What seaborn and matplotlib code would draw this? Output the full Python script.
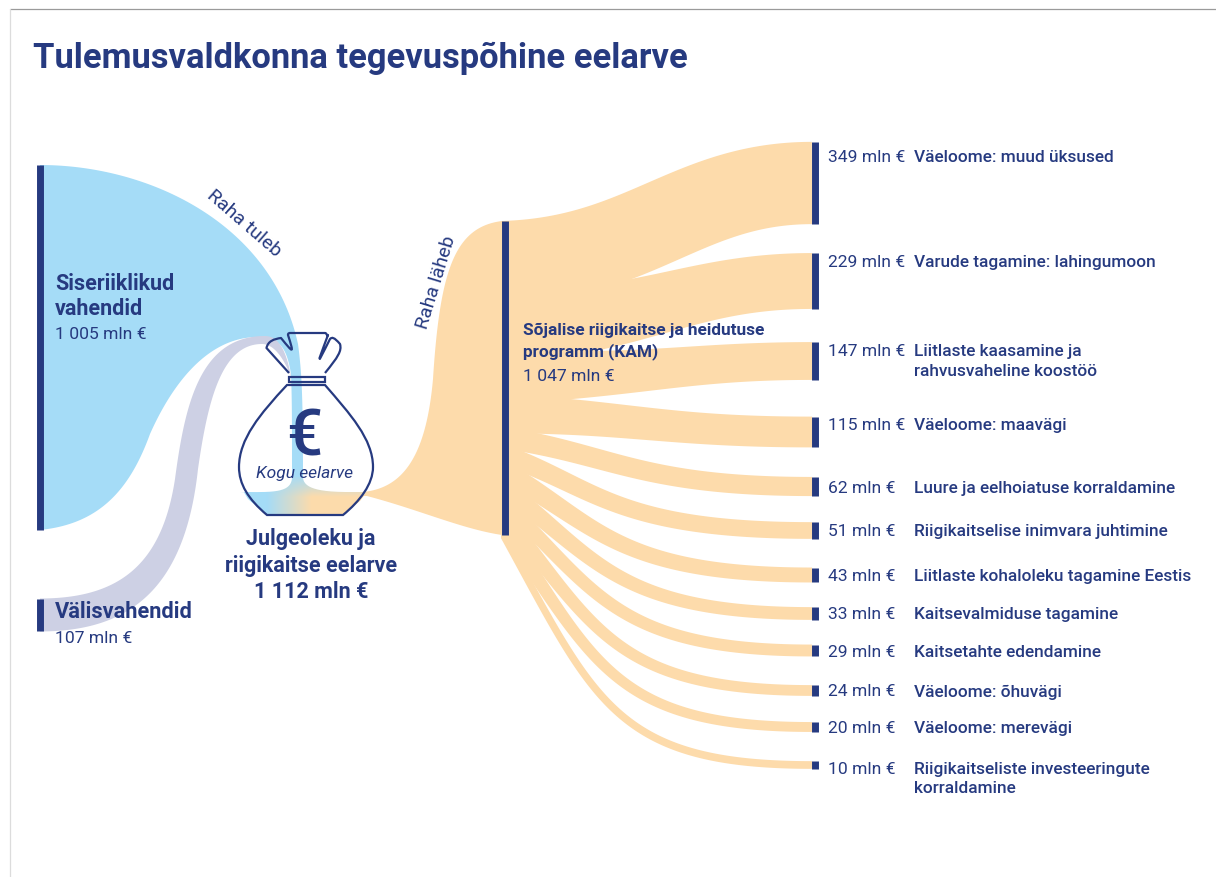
import numpy as np
import pandas as pd
import matplotlib
matplotlib.use("Agg")
import matplotlib.pyplot as plt
from matplotlib.colors import to_rgb
from matplotlib.patches import PathPatch, Rectangle
from matplotlib.path import Path
import seaborn as sns

# Data
source_names = ["Siseriiklikud\nvahendid", "Välisvahendid"]
source_values = [1005, 107]
total_value = 1112
program_name = "Sõjalise riigikaitse ja heidutuse\nprogramm (KAM)"
program_value = 1047
target_names = ["Väeloome: muud üksused", "Varude tagamine: lahingumoon",
                "Liitlaste kaasamine ja\nrahvusvaheline koostöö", "Väeloome: maavägi",
                "Luure ja eelhoiatuse korraldamine", "Riigikaitselise inimvara juhtimine",
                "Liitlaste kohaloleku tagamine Eestis", "Kaitsevalmiduse tagamine",
                "Kaitsetahte edendamine", "Väeloome: õhuvägi", "Väeloome: merevägi",
                "Riigikaitseliste investeeringute\nkorraldamine"]
target_values = [349, 229, 147, 115, 62, 51, 43, 33, 29, 24, 20, 10]

# Layout (image pixels)
target_centres = [184, 282, 362, 433, 487.5, 531.5, 576, 614.5, 651.5, 691.5, 728, 766]
label_centres = [157, 263, 361.5, 426, 489, 532, 577, 615, 653, 692, 729, 779]
slot_heights = [74, 60, 43, 31, 17, 16, 17, 15, 12, 12, 11, 6]

NAVY = "#263A80"
BLUE = "#A5DCF7"
LILAC = "#CDD0E4"
PEACH = "#FDDBAB"


def bez(p0, p1, p2, p3, n=80):
    t = np.linspace(0, 1, n)[:, None]
    p0, p1, p2, p3 = map(np.array, (p0, p1, p2, p3))
    return (1 - t) ** 3 * p0 + 3 * (1 - t) ** 2 * t * p1 + 3 * (1 - t) * t ** 2 * p2 + t ** 3 * p3


def sink_height(v):
    return 5.5 + 0.22 * v


def ribbon(y0, y1, w0, w1, over_top, over_bot):
    # centre line with a nearly constant width, like a thick stroke
    x0, x1 = 501, 812
    dx = x1 - x0
    d = np.clip((y1 - y0) / 230, 0, 1)
    k = min(1, 3 * d)
    a, c, b = 0.45 - 0.15 * k, 0.60 - 0.24 * k, 0.72 * d ** 0.5
    line = bez((x0, y0), (x0 + a * dx, y0 + b * (y1 - y0)), (x0 + c * dx, y1), (x1, y1), n=160)
    tang = np.gradient(line, axis=0)
    norm = np.column_stack([-tang[:, 1], tang[:, 0]]) / np.linalg.norm(tang, axis=1)[:, None]
    s = np.linspace(0, 1, len(line))[:, None]
    fade = (1 - s) ** 2.5
    up = w1 / 2 + (w0 / 2 + over_top - w1 / 2) * fade
    down = w1 / 2 + (w0 / 2 + over_bot - w1 / 2) * fade
    return np.vstack([line - norm * up, (line + norm * down)[::-1]])


sns.set_theme(style="white")
plt.rcParams["font.family"] = ["Roboto", "DejaVu Sans"]

fig = plt.figure(figsize=(12.16, 8.78), dpi=100)
ax = fig.add_axes([0, 0, 1, 1])

# page frame
ax.plot([10, 1216], [10, 10], color="#9a9a9a", lw=0.9)
ax.plot([10, 10], [10, 878], color="#dcdcdc", lw=0.9)

# left flows
blue_top = 166
blue_bot = blue_top + 0.3697 * source_values[0] - 6.6
blue = np.vstack([
    bez((40, blue_top), (150, blue_top), (272, 225), (298, 345)),
    bez((298, 345), (302, 375), (303, 400), (303, 485)),
    [(292, 485)],
    bez((292, 485), (292, 420), (292, 400), (291, 375)),
    bez((291, 375), (287, 350), (280, 338), (258, 338)),
    bez((258, 338), (205, 338), (170, 390), (150, 435)),
    bez((150, 435), (130, 490), (100, 525), (40, blue_bot)),
])
ax.fill(blue[:, 0], blue[:, 1], color=BLUE, lw=0)

lilac_top = 599.5
lilac_bot = lilac_top + 0.3697 * source_values[1] - 6.6
lilac = np.vstack([
    bez((40, lilac_top), (120, lilac_top), (162, 565), (175, 480)),
    bez((175, 480), (185, 405), (200, 337), (265, 337)),
    bez((265, 337), (280, 337), (287, 355), (291, 378)),
    bez((291, 378), (285, 362), (275, 345), (262, 345)),
    bez((262, 345), (222, 345), (208, 400), (198, 470)),
    bez((198, 470), (185, 590), (130, lilac_bot), (40, lilac_bot)),
])
ax.fill(lilac[:, 0], lilac[:, 1], color=LILAC, lw=0)

# flow out of the bag to the programme
prog_top, prog_bot = 222, 536
peach = np.vstack([
    bez((345, 493), (395, 497), (425, 470), (433, 380)),
    bez((433, 380), (440, 270), (455, 228), (502, prog_top)),
    [(502, prog_bot)],
    bez((502, prog_bot), (462, 530), (420, 511), (367, 497)),
    [(345, 497)],
])
ax.fill(peach[:, 0], peach[:, 1], color=PEACH, lw=0)

# flows to the programme's targets
clip = Rectangle((501, 0), 400, 878, transform=ax.transData)
slot = prog_top
last = len(target_values) - 1
for i, (value, centre, height) in enumerate(zip(target_values, target_centres, slot_heights)):
    over_top = 0 if i == 0 else 0.14 * height
    over_bot = 0 if i == last else 0.14 * height
    shape = ribbon(slot + height / 2, centre, height, sink_height(value), over_top, over_bot)
    poly = ax.fill(shape[:, 0], shape[:, 1], color=PEACH, lw=0)[0]
    poly.set_clip_path(clip)
    slot += height

# node bars
rows = [("a", 39.5, blue_top), ("a", 39.5, blue_bot),
        ("b", 39.5, lilac_top), ("b", 39.5, lilac_bot),
        ("c", 504.5, prog_top), ("c", 504.5, prog_bot)]
for i, (value, centre) in enumerate(zip(target_values, target_centres)):
    h = sink_height(value)
    rows += [(f"t{i}", 814.5, centre - h / 2), (f"t{i}", 814.5, centre + h / 2)]
nodes = pd.DataFrame(rows, columns=["node", "x", "y"])
sns.lineplot(data=nodes, x="x", y="y", units="node", estimator=None, sort=False,
             color=NAVY, linewidth=5.0, solid_capstyle="butt", ax=ax, legend=False)

# bag body and gradient
body = Path(
    [(287, 386), (260, 415), (239, 440), (239, 468), (239, 485), (248, 500), (267, 516),
     (343, 516), (360, 502), (373, 485), (373, 468), (373, 440), (350, 415), (325, 386), (287, 386)],
    [Path.MOVETO, Path.CURVE4, Path.CURVE4, Path.CURVE4, Path.CURVE4, Path.CURVE4, Path.CURVE4,
     Path.LINETO, Path.CURVE4, Path.CURVE4, Path.CURVE4, Path.CURVE4, Path.CURVE4, Path.CURVE4, Path.CLOSEPOLY])
ax.add_patch(PathPatch(body, facecolor="none", edgecolor=NAVY, lw=1.6, zorder=6))

outline = body.interpolated(40).vertices
lower = outline[outline[:, 1] >= 493]
pool = np.vstack([
    lower,
    bez((372, 493), (340, 493), (303, 495), (303, 478)),
    bez((292, 478), (292, 495), (270, 493), (240, 493)),
])
gx = np.linspace(239, 373, 268)
gy = np.linspace(470, 516, 92)
fx = np.clip((gx - 267) / 45, 0, 1)[None, :]
fy = np.clip((gy - 476) / 22, 0, 1)[:, None]
mix = (fx * fy)[:, :, None]
rgb = np.array(to_rgb(BLUE)) * (1 - mix) + np.array(to_rgb(PEACH)) * mix
grad = ax.imshow(rgb, extent=(239, 373, 516, 470), aspect="auto", zorder=2.5)
grad.set_clip_path(PathPatch(Path(pool), transform=ax.transData))

# collar and ties
ax.add_patch(Rectangle((288.5, 378), 36.5, 5, fill=False, edgecolor=NAVY, lw=1.6, zorder=6))
ties = Path(
    [(289, 374), (266.5, 349), (268, 342), (274, 340), (281, 339), (294, 355), (294, 355),
     (288, 336), (288, 334), (289, 334), (291, 334), (325, 334), (327, 334), (327, 338), (328, 336),
     (316, 368), (316, 368), (330, 340), (332, 338), (334, 338), (340, 345), (342, 352), (338, 358), (325, 374)],
    [Path.MOVETO, Path.LINETO, Path.CURVE4, Path.CURVE4, Path.CURVE4, Path.CURVE4, Path.CURVE4,
     Path.LINETO, Path.CURVE4, Path.CURVE4, Path.LINETO, Path.LINETO, Path.CURVE4, Path.CURVE4, Path.CURVE4,
     Path.CURVE4, Path.LINETO, Path.LINETO, Path.CURVE4, Path.CURVE4, Path.CURVE4, Path.CURVE4, Path.CURVE4, Path.CURVE4])
ax.add_patch(PathPatch(ties, facecolor="none", edgecolor=NAVY, lw=1.6, zorder=6, joinstyle="round"))

ax.set_xlim(0, 1216)
ax.set_ylim(878, 0)
ax.axis("off")


# texts
def txt(x, y, s, size, weight="normal", **kw):
    kw.setdefault("va", "center")
    ax.text(x, y, s, fontsize=size, fontweight=weight, color=NAVY, zorder=8, **kw)


txt(33, 58, "Tulemusvaldkonna tegevuspõhine eelarve", 24.85, "bold")
txt(55, 296.5, source_names[0], 15.5, "bold", linespacing=1.2)
txt(55, 335, f"{source_values[0]:,} mln €".replace(",", " "), 12.6)
txt(55, 612, source_names[1], 15.7, "bold")
txt(55, 639, f"{source_values[1]} mln €", 12.6)
txt(244, 223, "Raha tuleb", 14, rotation=-41, ha="center", rotation_mode="anchor")
txt(436, 282, "Raha läheb", 14, rotation=73, ha="center", rotation_mode="anchor")
txt(304, 438, "€", 46, "medium", ha="center")
txt(304, 474, "Kogu eelarve", 12.5, style="italic", ha="center")
txt(311, 552.5, "Julgeoleku ja\nriigikaitse eelarve", 15.5, "bold", ha="center", linespacing=1.25)
txt(311, 592, f"{total_value:,} mln €".replace(",", " "), 15.5, "bold", ha="center")
txt(523, 341.5, program_name, 12.4, "bold", linespacing=1.35)
txt(523, 377, f"{program_value:,} mln €".replace(",", " "), 12.6)
for name, value, y in zip(target_names, target_values, label_centres):
    first = y if "\n" not in name else y - 9.5
    txt(828, first, f"{value} mln €", 12.6)
    txt(914, y, name, 12.45, "medium", linespacing=1.35)

fig.savefig("out.png", dpi=100, facecolor="white")
